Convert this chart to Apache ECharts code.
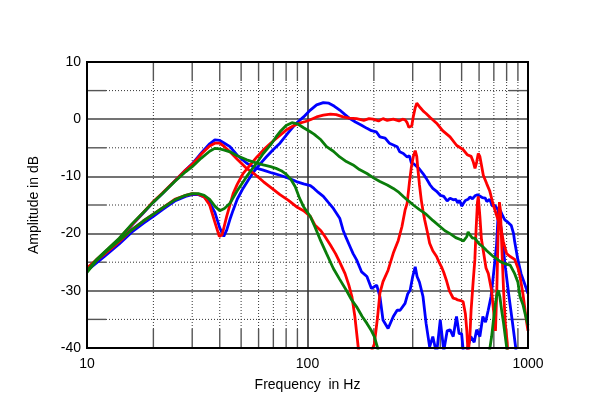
<!DOCTYPE html>
<html>
<head>
<meta charset="utf-8">
<script src="https://cdn.jsdelivr.net/npm/echarts@6/dist/echarts.min.js"></script>
<style>html,body{margin:0;padding:0;background:#fff}#c{width:600px;height:412px}</style>
</head>
<body>
<div id="c"></div>
<script>
// ---- data ----
const xTickLabels = [10, 100, 1000];
const yTickLabels = [-40, -30, -20, -10, 0, 10];
const xMinor = [20, 30, 40, 50, 60, 70, 80, 90, 200, 300, 400, 500, 600, 700, 800, 900];
const yMinor = [-35, -25, -15, -5, 5];

const blueAFreq = [10, 11, 12, 14, 16, 18, 20, 22, 25, 28, 30, 33, 36, 38, 40, 42, 44.5, 48, 53, 58, 63, 69, 75, 82, 89, 96, 103, 107, 112, 118, 124, 131, 140, 145, 150, 156, 161, 167, 176, 186, 195, 206, 213, 220, 232, 245, 255, 263, 277, 285, 292, 300, 308, 314, 322, 334, 345, 358, 370, 385, 400, 415, 430, 443, 458, 474, 487, 500, 510, 528, 550, 570, 585, 605, 624, 642, 660, 680, 700, 720, 735, 745, 760, 790, 820, 850, 880, 900];
const blueADb = [-26.3, -24.7, -23.4, -21, -18.5, -16.4, -14.5, -13, -10.8, -8.9, -7.8, -5.9, -4.3, -3.6, -3.7, -4.2, -4.8, -6.3, -7.7, -8.5, -8.9, -9.4, -9.8, -10.3, -10.9, -11.3, -11.6, -12.1, -12.8, -13.5, -14.5, -15.6, -17.3, -19.4, -20.8, -22.3, -23.5, -24.6, -26.7, -27.5, -29.6, -29, -31, -35.1, -36.6, -34.5, -33.4, -33.4, -32.2, -30.5, -29.9, -27.5, -25.8, -27.5, -28.5, -31, -35.7, -39.8, -38, -41, -35.1, -40.5, -37, -36.8, -38, -34.5, -37.5, -37.5, -41, -40.5, -38, -39, -36.8, -38, -34.5, -35.5, -33.4, -31, -26.5, -22, -15.5, -15.8, -20, -26, -31, -35.5, -40, -45];

const blueBFreq = [10, 12, 14, 16, 18, 20, 22, 25, 28, 30, 32, 34, 36, 38, 40, 41.7, 43, 44.5, 46, 48, 51, 54, 57, 61, 65, 70, 75, 82, 89, 96, 103, 110, 118, 125, 132, 140, 148, 155, 165, 175, 186, 195, 205, 213, 225, 235, 245, 255, 262, 272, 283, 290, 296, 303, 308, 320, 334, 345, 360, 370, 385, 400, 415, 430, 443, 458, 470, 480, 490, 500, 508, 520, 535, 545, 560, 575, 590, 600, 620, 640, 650, 670, 690, 705, 730, 750, 770, 785, 810, 840, 860, 870, 900, 930, 960, 1000];
const blueBDb = [-26.5, -24, -21.8, -19.7, -18.2, -17, -15.8, -14.3, -13.5, -13.2, -13.2, -13.6, -14.6, -16.3, -19, -20.5, -19.4, -17.5, -15.9, -14, -12.1, -10.6, -9.2, -7.8, -6.6, -5.3, -4.2, -2.3, -0.7, 0.4, 1.6, 2.5, 2.9, 2.8, 2.3, 1.6, 0.8, 0.15, -0.5, -1.0, -1.6, -2.0, -2.2, -3.1, -3.3, -4.2, -4.5, -4.8, -5.7, -6.0, -6.6, -6.4, -7.7, -7.8, -8.0, -8.6, -9.5, -10.3, -11.5, -12.1, -12.6, -13.3, -13.5, -14.3, -13.8, -14.1, -14.0, -14.6, -14.2, -15.2, -14.8, -14.2, -14.0, -13.6, -13.9, -13.4, -13.2, -13.5, -13.7, -13.8, -14.4, -14.0, -15.2, -15.0, -15.8, -16.0, -17, -17.6, -18, -18.6, -20, -21.4, -24.6, -27, -28.5, -30.5];

const redAFreq = [10, 11, 12, 14, 16, 18, 20, 22, 25, 28, 30, 33, 36, 38, 40, 42, 44.5, 48, 53, 58, 63, 69, 75, 82, 89, 96, 103, 108, 115, 120, 127, 134, 140, 148, 154, 159, 164, 170, 180, 190, 193, 201, 208, 213, 220, 232, 245, 258, 268, 277, 283, 290, 296, 302, 308, 313, 317, 322, 328, 334, 340, 350, 358, 370, 385, 395, 405, 415, 426, 440, 458, 470, 480, 495, 508, 520, 528, 535, 545, 552, 565, 574, 582, 590, 595, 605, 615, 627, 645, 661, 684, 700, 712, 722, 732, 742, 750, 760, 775, 790, 805, 820];
const redADb = [-26.1, -24.6, -23.3, -20.9, -18.4, -16.3, -14.4, -12.9, -10.8, -8.9, -7.9, -6.1, -4.7, -4.2, -4.2, -4.8, -5.7, -7, -8.6, -9.7, -10.9, -12.1, -13.2, -14.2, -15.3, -16, -17, -18.5, -19.5, -20.5, -22, -23.5, -25, -27, -29, -31, -34.5, -40, -46, -43, -41, -39.3, -34.5, -30.4, -28.4, -26.4, -23.4, -21.2, -18.8, -15.9, -14.7, -11, -8.3, -6.5, -5.5, -6.5, -8.9, -11.5, -14.1, -16, -17.6, -19.8, -21.7, -23, -24, -25, -25.8, -26.8, -28.1, -30, -31.3, -31.4, -31.6, -31.7, -31.9, -34, -37, -41, -38, -33.4, -28, -24.6, -19, -14.5, -13.5, -17, -21, -23, -26, -27, -30, -34, -37, -30, -20, -14.5, -16, -22, -30, -36, -39, -45];

const redBFreq = [10, 12, 14, 16, 18, 20, 22, 25, 28, 30, 32, 34, 36, 38, 39.8, 41, 43, 46, 48, 51, 55, 59, 63, 68, 74, 80, 86, 92, 98, 103, 110, 118, 127, 135, 145, 155, 167, 180, 190, 198, 210, 220, 230, 245, 260, 270, 277, 283, 288, 292, 297, 302, 308, 313, 317, 325, 335, 345, 360, 385, 410, 443, 475, 508, 530, 552, 565, 575, 585, 595, 605, 615, 627, 650, 670, 696, 730, 750, 773, 800, 830, 870, 900, 920, 950, 985, 1000];
const redBDb = [-26, -23.6, -21.4, -19.3, -17.8, -16.6, -15.5, -14, -13.3, -13, -13.1, -13.6, -15, -18, -20.5, -20.2, -17, -13, -11.4, -9.5, -8, -6.6, -5.4, -4.2, -3, -1.9, -1.2, -0.7, -0.4, -0.1, 0.4, 0.7, 0.9, 0.8, 0.4, 0.2, 0.1, -0.2, 0.1, 0, -0.3, 0.1, -0.2, 0, -0.3, 0, -0.1, -0.6, -1.4, -1.7, -1.2, 0.5, 2, 2.8, 2.7, 2.0, 1.4, 1.0, 0.3, -0.7, -2, -3.1, -4.6, -5.3, -6.2, -6.5, -7.5, -8.6, -7.5, -6, -6.5, -8, -9.8, -11.3, -12.5, -15, -17.5, -18.5, -21.4, -23.5, -24, -24.5, -26, -27.5, -30.7, -35.4, -37];

const greenAFreq = [10, 11, 12, 14, 16, 18, 20, 22, 25, 28, 30, 33, 36, 38, 40, 42, 44.5, 48, 53, 58, 63, 68, 72, 76, 80, 84, 88, 92, 96, 103, 108, 114, 122, 131, 140, 150, 158, 167, 177, 186, 195, 201, 208, 220, 300, 500, 640, 672, 684, 696, 710, 722, 733, 745, 760, 773, 801, 820];
const greenADb = [-26.5, -24.6, -23.2, -20.8, -18.3, -16.3, -14.5, -13, -10.9, -9.2, -8.3, -6.8, -5.6, -5.1, -5.2, -5.4, -5.7, -6.4, -7.1, -7.6, -8, -8.3, -8.6, -9, -9.6, -10.5, -11.8, -13.8, -15.3, -17, -18.8, -21, -23.5, -26.1, -28, -29.9, -31.5, -32.8, -34.5, -35.7, -37, -38, -40, -45, -55, -50, -45, -40, -38, -35.4, -32.5, -30.8, -29.9, -31, -33.5, -35.4, -40, -45];

const greenBFreq = [10, 11, 12, 14, 16, 18, 20, 22, 25, 28, 30, 32, 34, 36, 38, 40, 42, 44.5, 48, 53, 58, 63, 68, 72, 75, 80, 85, 90, 96, 103, 107, 115, 122, 131, 140, 150, 161, 172, 186, 200, 213, 230, 245, 260, 272, 285, 302, 322, 345, 370, 400, 420, 443, 470, 490, 510, 520, 528, 535, 545, 560, 574, 600, 624, 650, 696, 750, 790, 830, 870, 900, 920, 950, 970, 1000];
const greenBDb = [-26.8, -24.8, -23.4, -21.2, -19.3, -17.8, -16.6, -15.5, -14.1, -13.3, -13, -13, -13.3, -14, -15.2, -16, -15.6, -14.7, -12.5, -10, -8, -6, -4.5, -3.1, -2.2, -1.1, -0.6, -0.8, -1.5, -2.2, -2.6, -3.6, -4.8, -5.6, -6.6, -7.4, -8, -8.8, -9.5, -10.3, -10.9, -11.5, -12.1, -12.8, -13.5, -14.2, -15, -15.8, -16.6, -17.7, -18.8, -19.5, -20, -20.7, -21, -21.3, -21.5, -20.5, -19.7, -20.2, -20.8, -20.8, -21.8, -22.3, -23, -24, -24.9, -25.3, -25.5, -27, -28.5, -31, -32.5, -34, -36];

// ---- chart ----
function pairs(f, v) { return f.map((x, i) => [x, v[i]]); }
const BLUE = '#0000ff', RED = '#ff0000', GREEN = '#0a7d0a';
const FONT = 'Liberation Sans, Arial, sans-serif';

function lineSeries(name, f, v, color) {
  return {
    name: name, type: 'line', data: pairs(f, v), showSymbol: false, symbol: 'none',
    lineStyle: { color: color, width: 2.8 }, clip: true, z: 5, animation: false
  };
}

const TICK = 19;
const chart = echarts.init(document.getElementById('c'), null, { renderer: 'canvas' });
chart.setOption({
  animation: false,
  grid: { left: 87, right: 72, top: 62, bottom: 64, show: true, borderColor: '#000', borderWidth: 2, backgroundColor: 'transparent', z: 10 },
  xAxis: {
    type: 'log', logBase: 10, min: 10, max: 1000,
    name: 'Frequency  in Hz', nameLocation: 'middle', nameGap: 30,
    nameTextStyle: { color: '#000', fontSize: 14, fontFamily: FONT },
    axisLine: { show: false }, axisTick: { show: false },
    axisLabel: { color: '#000', fontSize: 14, fontFamily: FONT, margin: 9,
      formatter: function (v) { return xTickLabels.indexOf(Math.round(v)) >= 0 ? String(Math.round(v)) : ''; } },
    splitLine: { show: true, lineStyle: { color: '#333', width: 1.6 } }
  },
  yAxis: {
    type: 'value', min: -40, max: 10, interval: 10,
    name: 'Amplitude in dB', nameLocation: 'middle', nameGap: 46,
    nameTextStyle: { color: '#000', fontSize: 14, fontFamily: FONT },
    axisLine: { show: false }, axisTick: { show: false },
    axisLabel: { color: '#000', fontSize: 14, fontFamily: FONT, margin: 6,
      formatter: function (v) { return yTickLabels.indexOf(v) >= 0 ? String(v) : ''; } },
    splitLine: { show: true, lineStyle: { color: '#444', width: 1.6 } }
  },
  series: [
    {
      type: 'custom', z: 1, silent: true, animation: false,
      data: xMinor.map(f => [f, -40]),
      encode: { x: 0, y: 1 },
      renderItem: function (params, api) {
        const f = api.value(0);
        const b = api.coord([f, -40]), t = api.coord([f, 10]);
        return { type: 'group', children: [
          { type: 'line', shape: { x1: b[0], y1: b[1] - TICK, x2: t[0], y2: t[1] + TICK }, style: { stroke: '#333', lineWidth: 1, lineDash: [1, 2] } },
          { type: 'line', shape: { x1: b[0], y1: b[1], x2: b[0], y2: b[1] - TICK }, style: { stroke: '#555', lineWidth: 1.4 } },
          { type: 'line', shape: { x1: t[0], y1: t[1], x2: t[0], y2: t[1] + TICK }, style: { stroke: '#555', lineWidth: 1.4 } }
        ]};
      }
    },
    {
      type: 'custom', z: 1, silent: true, animation: false,
      data: yMinor.map(v => [10, v]),
      encode: { x: 0, y: 1 },
      renderItem: function (params, api) {
        const v = api.value(1);
        const l = api.coord([10, v]), r = api.coord([1000, v]);
        return { type: 'group', children: [
          { type: 'line', shape: { x1: l[0] + TICK, y1: l[1], x2: r[0] - TICK, y2: r[1] }, style: { stroke: '#333', lineWidth: 1, lineDash: [1, 2] } },
          { type: 'line', shape: { x1: l[0], y1: l[1], x2: l[0] + TICK, y2: l[1] }, style: { stroke: '#555', lineWidth: 1.4 } },
          { type: 'line', shape: { x1: r[0], y1: r[1], x2: r[0] - TICK, y2: r[1] }, style: { stroke: '#555', lineWidth: 1.4 } }
        ]};
      }
    },
    lineSeries('blueA', blueAFreq, blueADb, BLUE),
    lineSeries('blueB', blueBFreq, blueBDb, BLUE),
    lineSeries('redA', redAFreq, redADb, RED),
    lineSeries('redB', redBFreq, redBDb, RED),
    lineSeries('greenA', greenAFreq, greenADb, GREEN),
    lineSeries('greenB', greenBFreq, greenBDb, GREEN)
  ]
});
</script>
</body>
</html>
